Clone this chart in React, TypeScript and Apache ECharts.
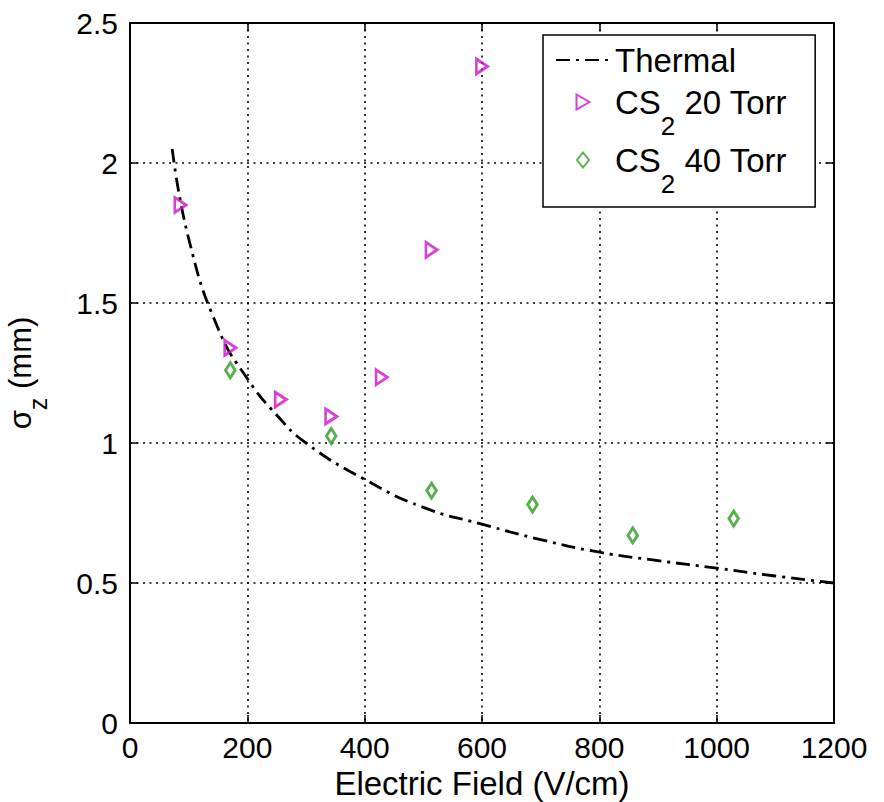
import React, { useEffect, useRef } from 'react';
import * as echarts from 'echarts';

const FONT = '"Liberation Sans", Arial, Helvetica, sans-serif';

// Thermal diffusion curve
const thermalField = [72, 100, 150, 200, 250, 300, 400, 500, 600, 700, 800, 900, 1000, 1100, 1200];
const thermalSigma = [2.05, 1.73, 1.41, 1.23, 1.1, 1.0, 0.87, 0.77, 0.71, 0.655, 0.61, 0.58, 0.553, 0.525, 0.5];

// CS2 20 Torr
const field20 = [86, 171, 257, 343, 429, 514, 600];
const sigma20 = [1.85, 1.34, 1.155, 1.095, 1.235, 1.69, 2.345];

// CS2 40 Torr
const field40 = [171, 343, 514, 686, 857, 1029];
const sigma40 = [1.26, 1.025, 0.83, 0.78, 0.67, 0.73];

const xTicks = { min: 0, max: 1200, interval: 200 };
const yTicks = { min: 0, max: 2.5, interval: 0.5 };

const MAGENTA = '#CC11CC';
const GREEN = '#2E9E22';

const TRIANGLE_RIGHT = 'path://M0,0L13,7.5L0,15Z';
const DIAMOND = 'path://M6,0L12,7.5L6,15L0,7.5Z';

const zip = (xs: number[], ys: number[]) => xs.map((x, i) => [x, ys[i]]);

export default function App() {
  const ref = useRef<HTMLDivElement>(null);
  useEffect(() => {
    const chart = echarts.init(ref.current!, null, { renderer: 'svg' });
    const axisLine = { show: true, onZero: false, lineStyle: { color: '#000', width: 2 } };
    const axisTick = { show: true, inside: true, length: 8, lineStyle: { color: '#000', width: 1.5 } };
    const splitLine = { show: true, lineStyle: { color: '#000', width: 1.6, type: [2, 4.5] } };
    const plain = (v: number) => String(v);
    const legendSub = { fontSize: 26, fontFamily: FONT, color: '#000', padding: [48, 0, 0, 0] };
    chart.setOption({
      animation: false,
      backgroundColor: '#fff',
      textStyle: { fontFamily: FONT },
      grid: { left: 130, right: 50, top: 23, bottom: 79, containLabel: false, outerBoundsMode: 'none' },
      xAxis: [
        {
          type: 'value', ...xTicks, position: 'bottom',
          axisLine, axisTick, splitLine,
          axisLabel: { color: '#000', fontSize: 30, margin: 9, fontFamily: FONT, formatter: plain },
          name: 'Electric Field (V/cm)', nameLocation: 'middle', nameGap: 38,
          nameTextStyle: { color: '#000', fontSize: 33, fontFamily: FONT },
        },
        {
          type: 'value', ...xTicks, position: 'top',
          axisLine, axisTick, splitLine: { show: false }, axisLabel: { show: false },
        },
      ],
      yAxis: [
        {
          type: 'value', ...yTicks, position: 'left',
          axisLine, axisTick, splitLine,
          axisLabel: { color: '#000', fontSize: 30, margin: 12, fontFamily: FONT, formatter: plain },
          name: '{s|σ}{sub|z}{s| (mm)}', nameLocation: 'middle', nameGap: 80, nameRotate: 90,
          nameTextStyle: {
            color: '#000', fontSize: 31, fontFamily: FONT,
            rich: {
              s: { fontSize: 31, fontFamily: FONT, color: '#000' },
              sub: { fontSize: 25, fontFamily: FONT, color: '#000', padding: [34, 0, 0, 0] },
            },
          },
        },
        {
          type: 'value', ...yTicks, position: 'right',
          axisLine, axisTick, splitLine: { show: false }, axisLabel: { show: false },
        },
      ],
      legend: {
        orient: 'vertical', left: 543, top: 35,
        padding: [4, 28, 10, 12], itemGap: -6, itemWidth: 54, itemHeight: 15,
        symbolKeepAspect: true,
        borderColor: '#000', borderWidth: 1.5, borderRadius: 0, backgroundColor: '#fff',
        data: [
          { name: 'Thermal', itemStyle: { opacity: 0 }, textStyle: { lineHeight: 42 } },
          { name: 'CS2 20 Torr', textStyle: { lineHeight: 54 } },
          { name: 'CS2 40 Torr', textStyle: { lineHeight: 54 } },
        ],
        formatter: (n: string) => n.replace('CS2', 'CS{sub|2}'),
        textStyle: {
          color: '#000', fontSize: 33, fontFamily: FONT,
          rich: { sub: legendSub },
        },
      },
      series: [
        {
          name: 'Thermal', type: 'line', data: zip(thermalField, thermalSigma),
          smooth: true, symbol: 'none', z: 3,
          lineStyle: { color: '#000', width: 2.8, type: [14, 6, 3, 6] },
          itemStyle: { color: '#000' },
        },
        {
          name: 'CS2 20 Torr', type: 'scatter', data: zip(field20, sigma20),
          symbol: TRIANGLE_RIGHT, symbolKeepAspect: true, symbolSize: [13, 15], z: 4,
          itemStyle: { color: 'rgba(255,255,255,0)', borderColor: MAGENTA, borderWidth: 2.8 },
        },
        {
          name: 'CS2 40 Torr', type: 'scatter', data: zip(field40, sigma40),
          symbol: DIAMOND, symbolKeepAspect: true, symbolSize: [12, 15], z: 4,
          itemStyle: { color: 'rgba(255,255,255,0)', borderColor: GREEN, borderWidth: 3 },
        },
      ],
    });
    return () => chart.dispose();
  }, []);
  return <div ref={ref} style={{ position: 'fixed', left: 0, top: 0, width: 884, height: 802 }} />;
}
